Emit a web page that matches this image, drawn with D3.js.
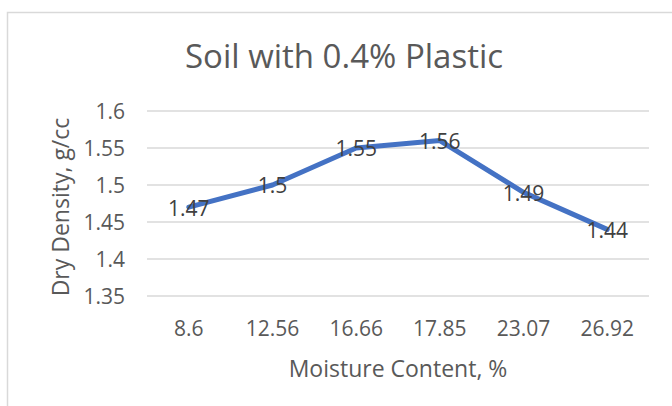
<!DOCTYPE html>
<html>
<head>
<meta charset="utf-8">
<script src="https://cdn.jsdelivr.net/npm/d3@7"></script>
<style>
  html, body { margin: 0; padding: 0; background: #fff; }
  svg { display: block; }
  text { font-family: "Open Sans", sans-serif; }
</style>
</head>
<body>
<svg id="chart" width="672" height="406"></svg>
<script>
// Compaction test results
const moistureLabels = ["8.6", "12.56", "16.66", "17.85", "23.07", "26.92"];
const dryDensity = [1.47, 1.5, 1.55, 1.56, 1.49, 1.44];
const yTicks = [1.35, 1.4, 1.45, 1.5, 1.55, 1.6];

const chartTitle = "Soil with 0.4% Plastic";
const xTitle = "Moisture Content, %";
const yTitle = "Dry Density, g/cc";

const svg = d3.select("#chart");

// chart frame
svg.append("rect")
  .attr("x", 7.5).attr("y", 12.5)
  .attr("width", 720).attr("height", 430)
  .attr("fill", "#fff")
  .attr("stroke", "#d9d9d9")
  .attr("stroke-width", 1.5);

const plot = { left: 147, right: 649, top: 111, bottom: 296 };

const x = d3.scaleBand()
  .domain(moistureLabels)
  .range([plot.left, plot.right]);

const y = d3.scaleLinear()
  .domain([1.35, 1.6])
  .range([plot.bottom, plot.top]);

// horizontal gridlines
svg.append("g")
  .selectAll("line")
  .data(yTicks)
  .join("line")
  .attr("x1", plot.left).attr("x2", plot.right)
  .attr("y1", d => y(d)).attr("y2", d => y(d))
  .attr("stroke", "#d9d9d9")
  .attr("stroke-width", 1.5);

// y axis tick labels
const yAxis = d3.axisLeft(y).tickValues(yTicks).tickFormat(d => String(+d.toFixed(2))).tickSize(0).tickPadding(0);
const gy = svg.append("g").attr("transform", `translate(${plot.left - 22},0)`).call(yAxis);
gy.select(".domain").remove();
gy.selectAll("text")
  .attr("fill", "#595959")
  .style("font-family", "'Open Sans', sans-serif")
  .style("font-size", "21px")
  .attr("dy", "0.36em");

// x axis tick labels
const xAxis = d3.axisBottom(x).tickSize(0).tickPadding(0);
const gx = svg.append("g").attr("transform", `translate(0,${plot.bottom})`).call(xAxis);
gx.select(".domain").remove();
gx.selectAll("text")
  .attr("fill", "#595959")
  .style("font-family", "'Open Sans', sans-serif")
  .style("font-size", "21px")
  .attr("y", 40)
  .attr("dy", 0);

// series line
const line = d3.line()
  .x((d, i) => x(moistureLabels[i]) + x.bandwidth() / 2)
  .y(d => y(d));

svg.append("path")
  .datum(dryDensity)
  .attr("d", line)
  .attr("fill", "none")
  .attr("stroke", "#4472c4")
  .attr("stroke-width", 5)
  .attr("stroke-linejoin", "round")
  .attr("stroke-linecap", "round");

// data labels, centred on each point
svg.append("g")
  .selectAll("text")
  .data(dryDensity)
  .join("text")
  .attr("x", (d, i) => x(moistureLabels[i]) + x.bandwidth() / 2)
  .attr("y", d => y(d))
  .attr("dy", "0.4em")
  .attr("text-anchor", "middle")
  .attr("fill", "#404040")
  .style("font-size", "21px")
  .text(d => String(d));

// chart title
svg.append("text")
  .attr("x", 344).attr("y", 68)
  .attr("text-anchor", "middle")
  .attr("fill", "#595959")
  .style("font-size", "33px")
  .text(chartTitle);

// axis titles
svg.append("text")
  .attr("x", (plot.left + plot.right) / 2).attr("y", 377)
  .attr("text-anchor", "middle")
  .attr("fill", "#595959")
  .style("font-size", "23px")
  .text(xTitle);

svg.append("text")
  .attr("transform", `translate(69,207) rotate(-90)`)
  .attr("text-anchor", "middle")
  .attr("fill", "#595959")
  .style("font-size", "23px")
  .text(yTitle);
</script>
</body>
</html>
